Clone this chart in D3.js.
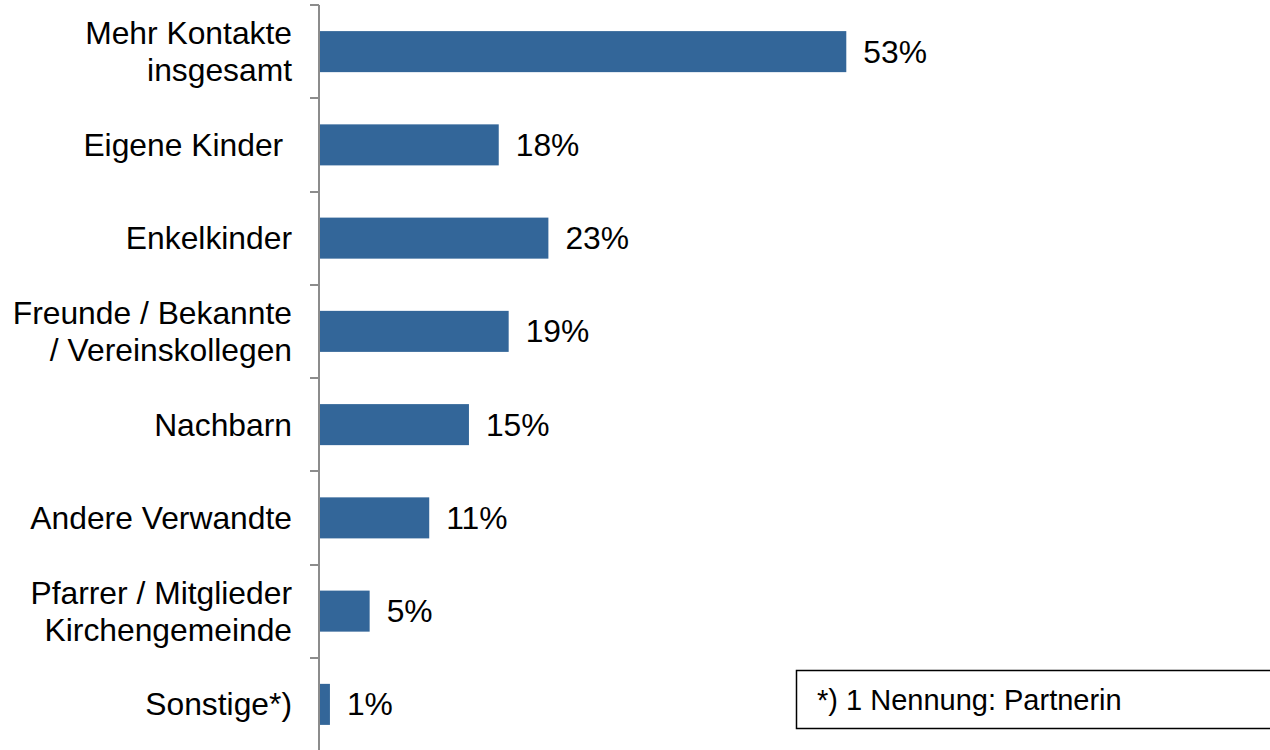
<!DOCTYPE html>
<html>
<head>
<meta charset="utf-8">
<script src="https://cdn.jsdelivr.net/npm/d3@7"></script>
<style>
  html, body { margin: 0; padding: 0; background: #fff; }
  svg { display: block; }
  text { font-family: Arial, "Liberation Sans", sans-serif; fill: #000; }
</style>
</head>
<body>
<svg id="chart" width="1270" height="750"></svg>
<script>
// Kategorien (mehrzeilige Beschriftungen als Zeilen-Arrays)
const categories = [
  ["Mehr Kontakte", "insgesamt"],
  ["Eigene Kinder "],
  ["Enkelkinder"],
  ["Freunde / Bekannte", "/ Vereinskollegen"],
  ["Nachbarn"],
  ["Andere Verwandte"],
  ["Pfarrer / Mitglieder", "Kirchengemeinde"],
  ["Sonstige*)"]
];
// Anteile in Prozent
const values = [53, 18, 23, 19, 15, 11, 5, 1];
const valueLabels = ["53%", "18%", "23%", "19%", "15%", "11%", "5%", "1%"];
const footnote = "*) 1 Nennung: Partnerin";

const svg = d3.select("#chart");
const fontSize = 31.8;
const barColor = "#336699";
const axisColor = "#8c8c8c";

const ids = d3.range(categories.length);
const y = d3.scaleBand().domain(ids).range([5, 751]).paddingInner(0.56).paddingOuter(0.28);
const band = d3.scaleBand().domain(ids).range([5, 751]); // tick boundaries
const x = d3.scaleLinear().domain([0, 100]).range([320, 1313]);

// Balken
svg.append("g").selectAll("rect")
  .data(values)
  .join("rect")
  .attr("x", x(0))
  .attr("y", (d, i) => y(i))
  .attr("width", d => x(d) - x(0))
  .attr("height", y.bandwidth())
  .attr("fill", barColor);

// Achse mit Teilstrichen an den Kategoriegrenzen
const axisX = 319;
const axisG = svg.append("g");
axisG.append("line")
  .attr("x1", axisX).attr("x2", axisX)
  .attr("y1", band(0)).attr("y2", 750)
  .attr("stroke", axisColor).attr("stroke-width", 2);
const tickYs = ids.map(i => band(i)).concat([band(ids.length - 1) + band.bandwidth()]);
axisG.selectAll("line.tick")
  .data(tickYs)
  .join("line")
  .attr("class", "tick")
  .attr("x1", axisX - 9).attr("x2", axisX)
  .attr("y1", d => Math.round(d)).attr("y2", d => Math.round(d))
  .attr("stroke", axisColor).attr("stroke-width", 2);

// Kategoriebeschriftungen
const lineH = 37;
const labelG = svg.append("g");
categories.forEach((lines, i) => {
  const cy = band(i) + band.bandwidth() / 2;
  const t = labelG.append("text")
    .attr("text-anchor", "end")
    .attr("font-size", fontSize)
    .style("white-space", "pre");
  lines.forEach((ln, k) => {
    const off = (k - (lines.length - 1) / 2) * lineH;
    t.append("tspan")
      .attr("x", 292)
      .attr("y", cy + off + 11)
      .text(ln);
  });
});

// Wertbeschriftungen
svg.append("g").selectAll("text")
  .data(values)
  .join("text")
  .attr("x", d => x(d) + 17)
  .attr("y", (d, i) => y(i) + y.bandwidth() / 2 + 11)
  .attr("font-size", fontSize)
  .text((d, i) => valueLabels[i]);

// Fußnotenkasten
const note = svg.append("g");
note.append("rect")
  .attr("x", 796.5).attr("y", 670.5)
  .attr("width", 520).attr("height", 58)
  .attr("fill", "#fff")
  .attr("stroke", "#000").attr("stroke-width", 1.5);
note.append("text")
  .attr("x", 817).attr("y", 710)
  .attr("font-size", 29)
  .text(footnote);
</script>
</body>
</html>
